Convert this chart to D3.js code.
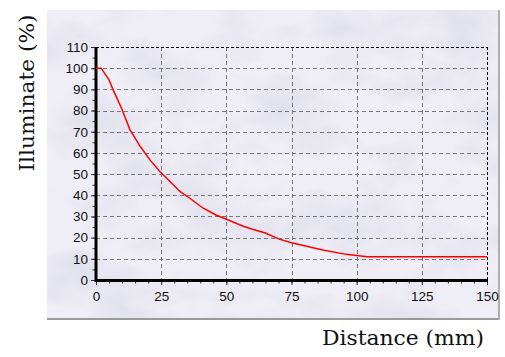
<!DOCTYPE html>
<html><head><meta charset="utf-8">
<script src="https://cdn.jsdelivr.net/npm/d3@7"></script>
<style>html,body{margin:0;padding:0;background:#fff;}svg{display:block;}</style>
</head><body>
<svg id="chart" width="505" height="357"></svg>
<script>
// ---- data ----
const distance = [0, 2, 5, 6.5, 10, 13, 17, 20.7, 24.5, 28.4, 32.2, 36, 41, 46, 51, 56.5, 60, 65, 70, 75, 87, 96, 104, 150];
const illuminate = [100, 100, 94.5, 90, 80.5, 71, 63, 56.7, 51.2, 46.5, 41.8, 38.6, 34, 30.7, 28.2, 25.4, 24, 22.2, 19.4, 17.6, 14.2, 12.1, 11, 11];
const xTicks = [0, 25, 50, 75, 100, 125, 150];
const yTicks = [0, 10, 20, 30, 40, 50, 60, 70, 80, 90, 100, 110];
const xTitle = "Distance (mm)";
const yTitle = "Illuminate (%)";

const svg = d3.select("#chart");
const L = 96, R = 487, T = 47, B = 280;
const x = d3.scaleLinear().domain([0, 150]).range([L, R]);
const y = d3.scaleLinear().domain([0, 110]).range([B, T]);

// marble-like panel
const defs = svg.append("defs");
const f = defs.append("filter").attr("id", "marble").attr("x", 0).attr("y", 0).attr("width", 1).attr("height", 1);
f.append("feTurbulence").attr("type", "fractalNoise").attr("baseFrequency", "0.012 0.02").attr("numOctaves", 4).attr("seed", 7).attr("result", "n");
f.append("feColorMatrix").attr("in", "n").attr("type", "matrix")
  .attr("values", "0 0 0 0 0.72  0 0 0 0 0.72  0 0 0 0 0.82  -2.4 0 0 0 1.4").attr("result", "c");
f.append("feComposite").attr("in", "c").attr("in2", "SourceGraphic").attr("operator", "in");

svg.append("rect").attr("x", 47).attr("y", 10).attr("width", 452).attr("height", 309).attr("fill", "#efeef6");
svg.append("rect").attr("x", 47).attr("y", 10).attr("width", 452).attr("height", 309).attr("fill", "#000").attr("filter", "url(#marble)").attr("opacity", 0.85);
// panel shadow edges
svg.append("line").attr("x1", 47).attr("x2", 500).attr("y1", 319).attr("y2", 319).attr("stroke", "#9a9a9a").attr("stroke-width", 2);
svg.append("line").attr("x1", 499).attr("x2", 499).attr("y1", 10).attr("y2", 320).attr("stroke", "#b0b0b0").attr("stroke-width", 2);

// grid
const g = svg.append("g");
g.selectAll(".gx").data(xTicks.slice(1, -1)).join("line")
  .attr("x1", d => Math.round(x(d)) + 0.5).attr("x2", d => Math.round(x(d)) + 0.5)
  .attr("y1", T).attr("y2", B).attr("stroke", "#777").attr("stroke-dasharray", "4,3");
g.selectAll(".gy").data(yTicks.slice(1, -1)).join("line")
  .attr("y1", d => Math.round(y(d)) + 0.5).attr("y2", d => Math.round(y(d)) + 0.5)
  .attr("x1", L).attr("x2", R).attr("stroke", "#777").attr("stroke-dasharray", "4,3");
// top/right dashed border
g.append("line").attr("x1", L).attr("x2", R).attr("y1", T + 0.5).attr("y2", T + 0.5).attr("stroke", "#000").attr("stroke-dasharray", "3,2");
g.append("line").attr("x1", R + 0.5).attr("x2", R + 0.5).attr("y1", T).attr("y2", B).attr("stroke", "#000").attr("stroke-dasharray", "3,2");

// axes
const xAxis = d3.axisBottom(x).tickValues(xTicks).tickSize(4).tickPadding(6);
const xMinor = d3.axisBottom(x).tickValues(d3.range(0, 151, 5)).tickSize(2.5).tickFormat("");
const yAxis = d3.axisLeft(y).tickValues(yTicks).tickSize(4).tickPadding(3);
const yMinor = d3.axisLeft(y).tickValues(d3.range(0, 111, 5)).tickSize(2.5).tickFormat("");

function style(sel) {
  sel.select(".domain").remove();
  sel.selectAll("line").attr("stroke", "#333");
  sel.selectAll("text").attr("font-family", "Liberation Sans, Arial, sans-serif").attr("font-size", 13.5).attr("fill", "#111");
}
svg.append("g").attr("transform", `translate(0,${B + 1})`).call(xMinor).call(style);
svg.append("g").attr("transform", `translate(0,${B + 1})`).call(xAxis).call(style);
svg.append("g").attr("transform", `translate(${L - 1},0)`).call(yMinor).call(style);
svg.append("g").attr("transform", `translate(${L - 1},0)`).call(yAxis).call(style);

// thick axis lines
svg.append("line").attr("x1", L).attr("x2", L).attr("y1", T).attr("y2", B + 2).attr("stroke", "#000").attr("stroke-width", 3);
svg.append("line").attr("x1", L - 1).attr("x2", R + 1).attr("y1", B + 0.5).attr("y2", B + 0.5).attr("stroke", "#000").attr("stroke-width", 3);

// curve
const line = d3.line().x((d, i) => x(distance[i])).y(d => y(d));
svg.append("path").datum(illuminate).attr("d", line).attr("fill", "none").attr("stroke", "#ff0000").attr("stroke-width", 1.5);

// titles
svg.append("text").attr("x", 403).attr("y", 345).attr("text-anchor", "middle")
  .attr("font-family", "DejaVu Serif, Liberation Serif, serif").attr("font-size", 21)
  .attr("textLength", 162).attr("lengthAdjust", "spacingAndGlyphs").attr("fill", "#111").text(xTitle);
svg.append("text").attr("transform", "translate(34,93) rotate(-90)").attr("text-anchor", "middle")
  .attr("font-family", "DejaVu Serif, Liberation Serif, serif").attr("font-size", 21)
  .attr("textLength", 157).attr("lengthAdjust", "spacingAndGlyphs").attr("fill", "#111").text(yTitle);
</script>
</body></html>
